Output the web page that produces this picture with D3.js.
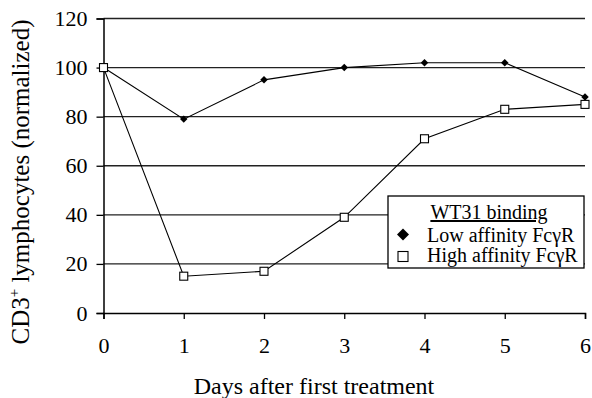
<!DOCTYPE html>
<html>
<head>
<meta charset="utf-8">
<script src="https://cdn.jsdelivr.net/npm/d3@7"></script>
<style>
  body { margin: 0; background: #fff; }
</style>
</head>
<body>
<div id="chart"></div>
<script>
const days = [0, 1, 2, 3, 4, 5, 6];
const lowAffinity = [100, 79, 95, 100, 102, 102, 88];
const highAffinity = [100, 15, 17, 39, 71, 83, 85];
const yTicks = [0, 20, 40, 60, 80, 100, 120];

const serif = "Liberation Serif";
const width = 592, height = 398;
const svg = d3.select("#chart").append("svg")
    .attr("width", width)
    .attr("height", height)
    .attr("font-family", serif);

const x = d3.scaleLinear().domain([0, 6]).range([103.5, 585]);
const y = d3.scaleLinear().domain([0, 120]).range([313, 18.5]);

// 网格线
svg.append("g")
    .selectAll("line")
    .data(yTicks.filter(d => d > 0))
    .enter().append("line")
    .attr("x1", x(0)).attr("x2", x(6))
    .attr("y1", d => y(d)).attr("y2", d => y(d))
    .attr("stroke", "#222")
    .attr("stroke-width", 1.3);

// y 轴
const yAxis = svg.append("g")
    .attr("transform", `translate(${x(0)},0)`)
    .call(d3.axisLeft(y).tickValues(yTicks).tickSize(7).tickPadding(9).tickFormat(d3.format("d")));
yAxis.attr("font-family", serif).attr("font-size", 22);
yAxis.select(".domain").attr("stroke", "#000").attr("stroke-width", 1.5);
yAxis.selectAll(".tick line").attr("stroke", "#000").attr("stroke-width", 1.3);
yAxis.selectAll("text").attr("fill", "#000");

// x 轴
const xAxis = svg.append("g")
    .attr("transform", `translate(0,${y(0)})`)
    .call(d3.axisBottom(x).tickValues(days).tickSizeOuter(0).tickSize(6).tickPadding(18).tickFormat(d3.format("d")));
xAxis.attr("font-family", serif).attr("font-size", 22);
xAxis.select(".domain").attr("stroke", "#000").attr("stroke-width", 1.5);
xAxis.selectAll(".tick line").attr("stroke", "#000").attr("stroke-width", 1.3);
xAxis.selectAll("text").attr("fill", "#000");

// 轴标题
svg.append("text")
    .attr("x", 314).attr("y", 394)
    .attr("text-anchor", "middle")
    .attr("font-size", 24)
    .text("Days after first treatment");

const yTitle = svg.append("text")
    .attr("transform", "translate(29,182) rotate(-90)")
    .attr("text-anchor", "middle")
    .attr("font-size", 25);
yTitle.append("tspan").text("CD3");
yTitle.append("tspan").attr("font-size", 15).attr("dy", -10).text("+");
yTitle.append("tspan").attr("dy", 10).text(" lymphocytes (normalized)");

// 折线
const line = d3.line().x(d => x(d[0])).y(d => y(d[1]));
const lowData = days.map((d, i) => [d, lowAffinity[i]]);
const highData = days.map((d, i) => [d, highAffinity[i]]);

svg.append("path").datum(highData).attr("d", line)
    .attr("fill", "none").attr("stroke", "#000").attr("stroke-width", 1.1);
svg.append("path").datum(lowData).attr("d", line)
    .attr("fill", "none").attr("stroke", "#000").attr("stroke-width", 1.1);

const diamond = d3.symbol().type(d3.symbolSquare).size(28);
svg.append("g").selectAll("path")
    .data(lowData)
    .enter().append("path")
    .attr("d", diamond)
    .attr("transform", d => `translate(${x(d[0])},${y(d[1])}) rotate(45)`)
    .attr("fill", "#000");

svg.append("g").selectAll("rect")
    .data(highData)
    .enter().append("rect")
    .attr("x", d => x(d[0]) - 4).attr("y", d => y(d[1]) - 4)
    .attr("width", 8).attr("height", 8)
    .attr("fill", "#fff").attr("stroke", "#000").attr("stroke-width", 1.1);

// 图例
const legend = svg.append("g").attr("transform", "translate(388,196)");
legend.append("rect")
    .attr("width", 196).attr("height", 72)
    .attr("fill", "#fff").attr("stroke", "#000").attr("stroke-width", 1.3);
legend.append("text")
    .attr("x", 101).attr("y", 23)
    .attr("text-anchor", "middle")
    .attr("font-size", 20)
    .attr("text-decoration", "underline")
    .text("WT31 binding");
legend.append("path")
    .attr("d", d3.symbol().type(d3.symbolSquare).size(72))
    .attr("transform", "translate(15,38.5) rotate(45)")
    .attr("fill", "#000");
legend.append("text")
    .attr("x", 39).attr("y", 46)
    .attr("font-size", 20)
    .text("Low affinity FcγR");
legend.append("rect")
    .attr("x", 10).attr("y", 55.5).attr("width", 10).attr("height", 10)
    .attr("fill", "#fff").attr("stroke", "#000").attr("stroke-width", 1.1);
legend.append("text")
    .attr("x", 39).attr("y", 66)
    .attr("font-size", 20)
    .text("High affinity FcγR");
</script>
</body>
</html>
